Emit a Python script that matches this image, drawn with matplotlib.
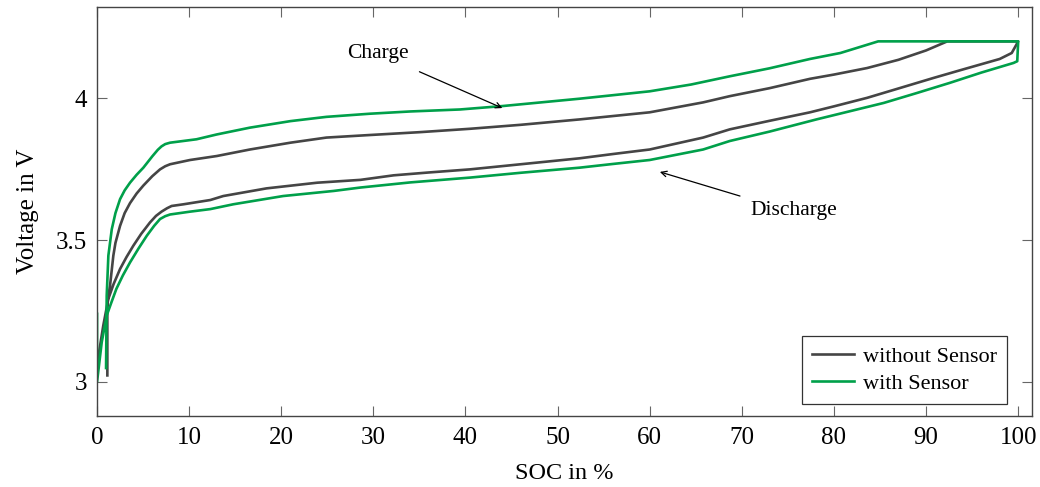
import matplotlib
matplotlib.use("Agg")
import matplotlib.pyplot as plt

plt.rcParams["font.family"] = ["Liberation Serif", "DejaVu Serif"]

# --- Cell without sensor -------------------------------------------------
soc_charge_wo = [1.12, 1.12, 1.41, 1.77, 2.0, 2.5, 3.0, 3.58, 4.3, 5.03, 6.0, 6.84,
                 7.4, 7.93, 10.1, 13.0, 16.6, 21.0, 24.9, 29.6, 35.0, 40.5, 46.0,
                 52.4, 60.0, 65.8, 68.7, 73.0, 77.4, 80.0, 83.6, 87.0, 90.0, 92.3,
                 100.0]
v_charge_wo = [3.023, 3.281, 3.339, 3.445, 3.49, 3.55, 3.595, 3.630, 3.664, 3.692,
               3.725, 3.749, 3.760, 3.767, 3.782, 3.796, 3.819, 3.843, 3.861, 3.870,
               3.880, 3.892, 3.906, 3.925, 3.950, 3.985, 4.007, 4.035, 4.068, 4.083,
               4.106, 4.135, 4.168, 4.2, 4.2]

soc_discharge_wo = [100.0, 99.8, 99.3, 98.0, 94.0, 90.8, 87.0, 83.6, 80.0, 77.4, 73.0,
                    68.7, 65.8, 60.0, 56.0, 52.4, 46.0, 40.5, 36.0, 32.2, 28.6, 23.9,
                    18.4, 13.7, 12.3, 9.4, 8.1, 7.6, 7.0, 6.4, 5.75, 4.8, 3.94, 3.2,
                    2.5, 1.8, 1.23, 0.68, 0.0]
v_discharge_wo = [4.2, 4.188, 4.159, 4.138, 4.101, 4.071, 4.034, 4.001, 3.971, 3.950,
                  3.920, 3.890, 3.861, 3.819, 3.803, 3.788, 3.767, 3.749, 3.738, 3.728,
                  3.712, 3.702, 3.682, 3.655, 3.641, 3.626, 3.620, 3.612, 3.600, 3.585,
                  3.562, 3.522, 3.480, 3.440, 3.398, 3.345, 3.293, 3.199, 3.06]

# --- Cell with sensor ----------------------------------------------------
soc_charge_w = [0.98, 1.05, 1.23, 1.6, 2.0, 2.5, 3.0, 3.58, 4.3, 5.03, 6.0, 6.6, 7.0,
                7.4, 7.93, 10.8, 13.0, 16.6, 21.0, 24.9, 29.6, 34.0, 39.4, 44.0, 52.4,
                60.0, 64.5, 68.7, 73.0, 77.4, 80.7, 84.8, 100.0]
v_charge_w = [3.049, 3.304, 3.445, 3.538, 3.595, 3.644, 3.675, 3.702, 3.730, 3.755,
              3.795, 3.818, 3.830, 3.838, 3.843, 3.855, 3.872, 3.896, 3.919, 3.934,
              3.945, 3.953, 3.960, 3.972, 3.998, 4.024, 4.048, 4.077, 4.105, 4.138,
              4.159, 4.2, 4.2]

soc_discharge_w = [100.0, 99.9, 99.5, 96.0, 92.6, 89.0, 85.4, 81.5, 78.1, 73.0, 68.7,
                   65.8, 60.0, 56.0, 52.4, 46.0, 40.5, 34.0, 28.6, 25.7, 20.2, 14.8,
                   12.3, 10.1, 7.93, 7.4, 6.84, 6.2, 5.4, 4.5, 3.58, 2.8, 2.1, 1.5,
                   1.05, 0.51, 0.0, 0.0]
v_discharge_w = [4.2, 4.13, 4.124, 4.09, 4.054, 4.018, 3.983, 3.952, 3.925, 3.882,
                 3.849, 3.819, 3.782, 3.768, 3.755, 3.737, 3.720, 3.703, 3.685, 3.673,
                 3.655, 3.626, 3.609, 3.600, 3.590, 3.584, 3.574, 3.550, 3.515, 3.470,
                 3.421, 3.375, 3.328, 3.275, 3.234, 3.14, 3.0, 3.24]

x_ticks = [0, 10, 20, 30, 40, 50, 60, 70, 80, 90, 100]
y_ticks = [3.0, 3.5, 4.0]
y_tick_labels = ["3", "3.5", "4"]

GRAY = "#454545"
GREEN = "#00a04a"

fig = plt.figure(figsize=(10.4, 4.87), dpi=100)
ax = fig.add_axes([0.0933, 0.1458, 0.8990, 0.8392])

# one full cycle per cell: charge, constant-voltage phase, discharge
ax.plot(soc_charge_wo + soc_discharge_wo, v_charge_wo + v_discharge_wo,
        color=GRAY, lw=1.9, label="without Sensor", solid_joinstyle="round")
ax.plot(soc_charge_w + soc_discharge_w, v_charge_w + v_discharge_w,
        color=GREEN, lw=1.9, label="with Sensor", solid_joinstyle="round")

ax.set_xlim(0, 101.5)
ax.set_ylim(2.88, 4.32)
ax.set_xticks(x_ticks)
ax.set_yticks(y_ticks)
ax.set_yticklabels(y_tick_labels)
ax.tick_params(direction="in", length=7, width=0.8, color="#666666",
               top=True, right=True, labelsize=18)
ax.tick_params(axis="x", pad=8)
ax.tick_params(axis="y", pad=7)
for s in ax.spines.values():
    s.set_color("#444444")
    s.set_linewidth(1.0)

ax.set_xlabel("SOC in %", fontsize=17.5, labelpad=10)
ax.set_ylabel("Voltage in V", fontsize=18, labelpad=12)

arrow = dict(arrowstyle="->", lw=0.9, color="black", shrinkA=0, shrinkB=0)
ax.annotate("", xy=(44.0, 3.965), xytext=(35.0, 4.093), arrowprops=arrow)
ax.text(30.5, 4.157, "Charge", fontsize=15.5, ha="center", va="center")
ax.annotate("", xy=(61.1, 3.740), xytext=(69.8, 3.655), arrowprops=arrow)
ax.text(75.6, 3.603, "Discharge", fontsize=15.5, ha="center", va="center")

leg = ax.legend(loc="lower right", bbox_to_anchor=(0.973, 0.029), borderaxespad=0,
                fontsize=16, frameon=True, fancybox=False, edgecolor="black",
                handlelength=1.9, borderpad=0.45, labelspacing=0.3,
                handletextpad=0.4)
leg.get_frame().set_linewidth(0.9)

fig.savefig("out.png", dpi=100)
